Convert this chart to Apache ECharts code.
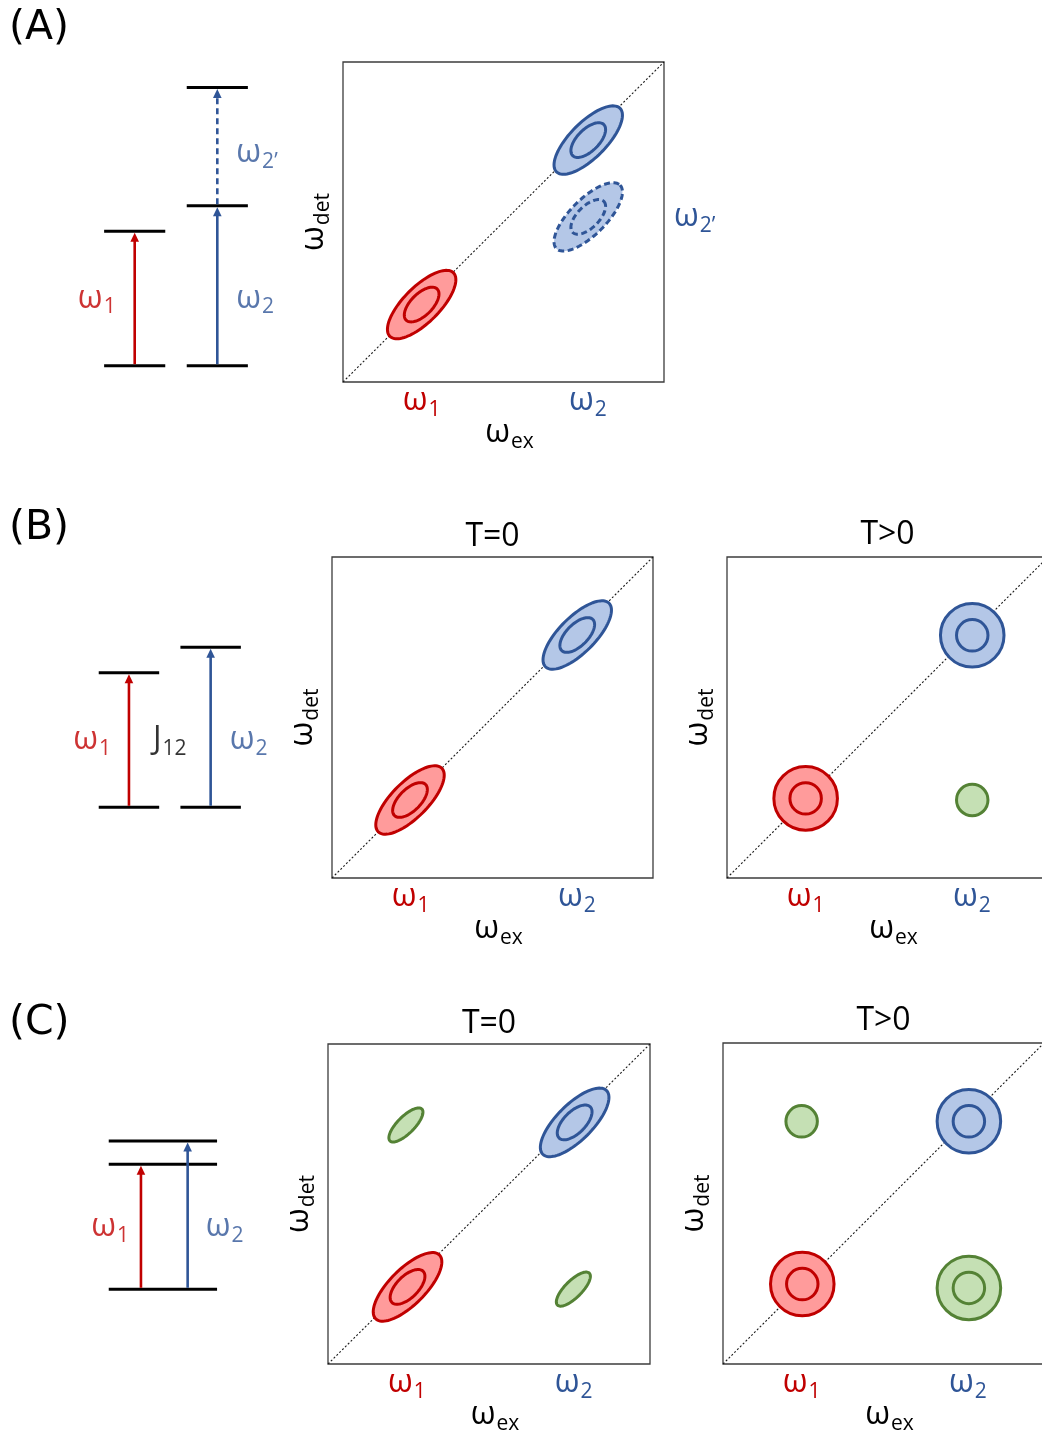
<!DOCTYPE html>
<html>
<head>
<meta charset="utf-8">
<script src="https://cdn.jsdelivr.net/npm/echarts@6/dist/echarts.min.js"></script>
<style>
  html, body { margin: 0; padding: 0; background: #fff; }
  #chart { width: 1042px; height: 1435px; }
</style>
</head>
<body>
<div id="chart"></div>
<script>
// ---- 2D spectra: excitation / detection frequency axes run 0..100 ----
const omegaPos = [24.5, 76.3];          // ω1, ω2 on both axes
const omegaTickNames = ['1', '2'];

// (A) diagonal peaks and the shifted (ω2') peak
const peaksA = [[24.5, 24.2], [76.4, 75.6]];
const peaksAshifted = [[76.4, 51.6]];
// (B) coupled pair, T = 0 and T > 0
const peaksB0 = [[24.3, 24.3], [76.4, 75.7]];
const peaksB1diag = [[24.5, 24.8], [76.4, 75.6]];
const peaksB1cross = [[76.4, 24.3]];
// (C) shared ground state, T = 0 and T > 0
const peaksC0diag = [[24.7, 24.1], [76.6, 75.5]];
const peaksC0cross = [[24.2, 74.7], [76.2, 23.4]];
const peaksC1diag = [[24.7, 24.9], [76.6, 75.6]];
const peaksC1crossWeak = [[24.5, 75.6]];
const peaksC1crossStrong = [[76.6, 23.7]];

// line-shape contours: [diagonal, anti-diagonal] semi-widths, or circle radii
const contoursT0 = [[14.0, 5.6], [6.85, 3.4]];
const contoursCross = [[7.0, 2.65]];
const contoursRound = [9.9, 4.9];
const contoursWeak = [4.9];

// ---- energy-level diagrams (ground = 0, ω1 excited state = 1) ----
const levelsA1 = [0, 1.00];
const levelsA2 = [0, 1.19, 2.07];
const levelsB1 = [0, 1.00];
const levelsB2 = [0, 1.19];
const levelsC = [0, 1.00, 1.186];
const transA = [[0, 1.00], [0, 1.19], [1.19, 2.07]];   // ω1, ω2, ω2'
const transB = [[0, 1.00], [0, 1.19]];
const transC = [[0, 1.00], [0, 1.186]];

const FONT = "'Open Sans', 'Noto Sans', 'DejaVu Sans', sans-serif";
const RED = '#C00000', BLUE = '#2F5597', GREEN = '#548235';
const RED_FILL = '#FF9B9B', BLUE_FILL = '#B4C7E7', GREEN_FILL = '#C5E0B4';

function mainStyle(color) {
  return { fontFamily: FONT, fontSize: 32, color: color, lineHeight: 36 };
}
function subStyle(color) {
  return { fontFamily: FONT, fontSize: 21, color: color, lineHeight: 21, padding: [18, 0, 0, 1] };
}
const RICH = {
  r: mainStyle(RED), rs: subStyle(RED),
  b: mainStyle(BLUE), bs: subStyle(BLUE),
  k: mainStyle('#000'), ks: subStyle('#000')
};

// grid boxes: [left, top, width, height]
const plotBoxes = [
  [343, 62, 321, 320],
  [332, 557, 321, 321],
  [727, 557, 321, 321],
  [328, 1044, 322, 320],
  [723, 1043, 321, 321]
];
const diagramBoxes = [
  [68.6, 70, 214.8, 295.7],
  [63.6, 618.9, 212.4, 188.4],
  [103.6, 1114.3, 121.4, 175]
];
const diagramEmax = [2.2, 1.4, 1.4];

const grids = [], xAxes = [], yAxes = [], series = [];

plotBoxes.forEach(function (b, i) {
  grids.push({ left: b[0], top: b[1], width: b[2], height: b[3], show: true,
    outerBoundsMode: 'none', containLabel: false,
    borderColor: '#3c3c3c', borderWidth: 1.3, backgroundColor: 'transparent' });
  xAxes.push({
    gridIndex: i, type: 'value', min: 0, max: 100,
    axisLine: { show: false }, axisTick: { show: false }, splitLine: { show: false },
    axisLabel: {
      show: true, customValues: omegaPos, margin: 1, rich: RICH,
      formatter: function (v) {
        return v < 50 ? '{r|ω}{rs|' + omegaTickNames[0] + '}' : '{b|ω}{bs|' + omegaTickNames[1] + '}';
      }
    },
    name: '{k|ω}{ks|ex}', nameLocation: 'middle', nameGap: 33, nameMoveOverlap: false,
    nameTextStyle: { rich: RICH, padding: [0, 0, 0, 12], verticalAlign: 'top' }
  });
  yAxes.push({
    gridIndex: i, type: 'value', min: 0, max: 100,
    axisLine: { show: false }, axisTick: { show: false }, splitLine: { show: false },
    axisLabel: { show: false },
    name: '{k|ω}{ks|det}', nameLocation: 'middle', nameGap: 11, nameRotate: 90, nameMoveOverlap: false,
    nameTextStyle: { rich: RICH }
  });
  // dotted diagonal ωex = ωdet
  series.push({
    type: 'line', xAxisIndex: i, yAxisIndex: i, data: [[0, 0], [100, 100]],
    symbol: 'none', silent: true, z: 1,
    lineStyle: { color: '#1a1a1a', width: 1.1, type: [2, 2] }
  });
});

diagramBoxes.forEach(function (b, j) {
  const gi = plotBoxes.length + j;
  grids.push({ left: b[0], top: b[1], width: b[2], height: b[3], show: false, outerBoundsMode: 'none' });
  xAxes.push({ gridIndex: gi, type: 'value', min: 0.2, max: 2.8, show: false });
  yAxes.push({ gridIndex: gi, type: 'value', min: 0, max: diagramEmax[j], show: false });
});

// extra right-hand axis of panel (A) carrying the ω2' label
yAxes.push({
  gridIndex: 0, type: 'value', min: 0, max: 100, position: 'right',
  axisLine: { show: false }, axisTick: { show: false }, splitLine: { show: false },
  axisLabel: { show: true, customValues: [peaksAshifted[0][1]], margin: 10, rich: RICH,
    formatter: function () { return '{b|ω}{bs|2’}'; } }
});

function ellipsePoints(cx, cy, a, b) {
  const k = Math.SQRT1_2, pts = [];
  for (let i = 0; i < 96; i++) {
    const t = i / 96 * 2 * Math.PI;
    const p = a * Math.cos(t), q = b * Math.sin(t);
    pts.push([cx + k * (p + q), cy + k * (q - p)]);
  }
  return pts;
}

function peakSeries(gi, data, contours, shape, stroke, fill, dashed) {
  return {
    type: 'custom', coordinateSystem: 'cartesian2d', xAxisIndex: gi, yAxisIndex: gi,
    z: 3, silent: true, data: data, encode: { x: 0, y: 1 },
    renderItem: function (params, api) {
      const c = api.coord([api.value(0), api.value(1)]);
      const u = api.size([1, 1]);
      const style = { fill: fill, stroke: stroke, lineWidth: 3, lineDash: dashed ? [6, 3.5] : null };
      const children = contours.map(function (ct) {
        return shape === 'circle'
          ? { type: 'circle', shape: { cx: c[0], cy: c[1], r: ct * u[0] }, style: style }
          : { type: 'polygon', shape: { points: ellipsePoints(c[0], c[1], ct[0] * u[0], ct[1] * u[1]) }, style: style };
      });
      return { type: 'group', children: children };
    }
  };
}

series.push(
  peakSeries(0, peaksA.slice(0, 1), contoursT0, 'ellipse', RED, RED_FILL),
  peakSeries(0, peaksA.slice(1), contoursT0, 'ellipse', BLUE, BLUE_FILL),
  peakSeries(0, peaksAshifted, contoursT0, 'ellipse', BLUE, BLUE_FILL, true),
  peakSeries(1, peaksB0.slice(0, 1), contoursT0, 'ellipse', RED, RED_FILL),
  peakSeries(1, peaksB0.slice(1), contoursT0, 'ellipse', BLUE, BLUE_FILL),
  peakSeries(2, peaksB1diag.slice(0, 1), contoursRound, 'circle', RED, RED_FILL),
  peakSeries(2, peaksB1diag.slice(1), contoursRound, 'circle', BLUE, BLUE_FILL),
  peakSeries(2, peaksB1cross, contoursWeak, 'circle', GREEN, GREEN_FILL),
  peakSeries(3, peaksC0diag.slice(0, 1), contoursT0, 'ellipse', RED, RED_FILL),
  peakSeries(3, peaksC0diag.slice(1), contoursT0, 'ellipse', BLUE, BLUE_FILL),
  peakSeries(3, peaksC0cross, contoursCross, 'ellipse', GREEN, GREEN_FILL),
  peakSeries(4, peaksC1diag.slice(0, 1), contoursRound, 'circle', RED, RED_FILL),
  peakSeries(4, peaksC1diag.slice(1), contoursRound, 'circle', BLUE, BLUE_FILL),
  peakSeries(4, peaksC1crossWeak, contoursWeak, 'circle', GREEN, GREEN_FILL),
  peakSeries(4, peaksC1crossStrong, contoursRound, 'circle', GREEN, GREEN_FILL)
);

// ---- energy-level diagram helpers ----
function levelSeries(gi, data) {            // data: [xStart, xEnd, energy]
  return {
    type: 'custom', coordinateSystem: 'cartesian2d', xAxisIndex: gi, yAxisIndex: gi,
    silent: true, z: 2, data: data, encode: { x: [0, 1], y: 2 },
    renderItem: function (params, api) {
      const p0 = api.coord([api.value(0), api.value(2)]);
      const p1 = api.coord([api.value(1), api.value(2)]);
      return { type: 'line', shape: { x1: p0[0], y1: p0[1], x2: p1[0], y2: p1[1] },
        style: { stroke: '#000', lineWidth: 3 } };
    }
  };
}
function arrowSeries(gi, data, color, dashed) {   // data: [x, fromEnergy, toEnergy]
  return {
    type: 'custom', coordinateSystem: 'cartesian2d', xAxisIndex: gi, yAxisIndex: gi,
    silent: true, z: 3, data: data, encode: { x: 0, y: [1, 2] },
    renderItem: function (params, api) {
      const s = api.coord([api.value(0), api.value(1)]);
      const t = api.coord([api.value(0), api.value(2)]);
      const tip = t[1] + 1.5, head = 9, hw = 4.3;
      return { type: 'group', children: [
        { type: 'line', shape: { x1: s[0], y1: s[1] - 1.5, x2: t[0], y2: tip + head - 1 },
          style: { stroke: color, lineWidth: 2.6, lineDash: dashed ? [6, 4] : null } },
        { type: 'polygon', shape: { points: [[t[0], tip], [t[0] - hw, tip + head], [t[0] + hw, tip + head]] },
          style: { fill: color } }
      ] };
    }
  };
}
function labelSeries(gi, point, text, position, distance) {
  return {
    type: 'scatter', xAxisIndex: gi, yAxisIndex: gi, data: [point], silent: true,
    symbolSize: 0.1, itemStyle: { color: 'transparent' },
    label: { show: true, position: position, distance: distance, formatter: text, rich: RICH }
  };
}
function levelItems(column, halfWidth, energies) {
  return energies.map(function (e) { return [column - halfWidth, column + halfWidth, e]; });
}

// (A)
series.push(
  levelSeries(5, levelItems(1, 0.37, levelsA1).concat(levelItems(2, 0.37, levelsA2))),
  arrowSeries(5, [[1, transA[0][0], transA[0][1]]], RED),
  arrowSeries(5, [[2, transA[1][0], transA[1][1]]], BLUE),
  arrowSeries(5, [[2, transA[2][0], transA[2][1]]], BLUE, true),
  labelSeries(5, [1, transA[0][1] / 2], '{r|ω}{rs|1}', 'left', 19),
  labelSeries(5, [2, transA[0][1] / 2], '{b|ω}{bs|2}', 'right', 19),
  labelSeries(5, [2, 1.58], '{b|ω}{bs|2’}', 'right', 19)
);
// (B)
series.push(
  levelSeries(6, levelItems(1, 0.37, levelsB1).concat(levelItems(2, 0.37, levelsB2))),
  arrowSeries(6, [[1, transB[0][0], transB[0][1]]], RED),
  arrowSeries(6, [[2, transB[1][0], transB[1][1]]], BLUE),
  labelSeries(6, [1, transB[0][1] / 2], '{r|ω}{rs|1}', 'left', 18),
  labelSeries(6, [1.5, transB[0][1] / 2], '{k|J}{ks|12}', 'inside', 0),
  labelSeries(6, [2, transB[0][1] / 2], '{b|ω}{bs|2}', 'right', 19)
);
// (C)
series.push(
  levelSeries(7, levelsC.map(function (e) { return [0.31, 2.63, e]; })),
  arrowSeries(7, [[1, transC[0][0], transC[0][1]]], RED),
  arrowSeries(7, [[2, transC[1][0], transC[1][1]]], BLUE),
  labelSeries(7, [1, transC[0][1] / 2], '{r|ω}{rs|1}', 'left', 12),
  labelSeries(7, [2, transC[0][1] / 2], '{b|ω}{bs|2}', 'right', 18)
);

const panelStyle = { fontFamily: "'DejaVu Sans', 'Liberation Sans', sans-serif", fontSize: 41, fontWeight: 'normal', color: '#000' };
const headStyle = { fontFamily: FONT, fontSize: 32, fontWeight: 'normal', color: '#000' };

const option = {
  animation: false,
  backgroundColor: '#fff',
  title: [
    { text: '(A)', left: 9, top: 8, padding: 0, textStyle: panelStyle },
    { text: '(B)', left: 9, top: 508, padding: 0, textStyle: panelStyle },
    { text: '(C)', left: 9, top: 1003, padding: 0, textStyle: panelStyle },
    { text: 'T=0', left: 492.5, top: 521, padding: 0, textAlign: 'center', textStyle: headStyle },
    { text: 'T>0', left: 887.5, top: 519, padding: 0, textAlign: 'center', textStyle: headStyle },
    { text: 'T=0', left: 489, top: 1008, padding: 0, textAlign: 'center', textStyle: headStyle },
    { text: 'T>0', left: 883.5, top: 1005, padding: 0, textAlign: 'center', textStyle: headStyle }
  ],
  grid: grids,
  xAxis: xAxes,
  yAxis: yAxes,
  series: series
};

const chart = echarts.init(document.getElementById('chart'), null, { renderer: 'canvas' });
chart.setOption(option);
</script>
</body>
</html>
